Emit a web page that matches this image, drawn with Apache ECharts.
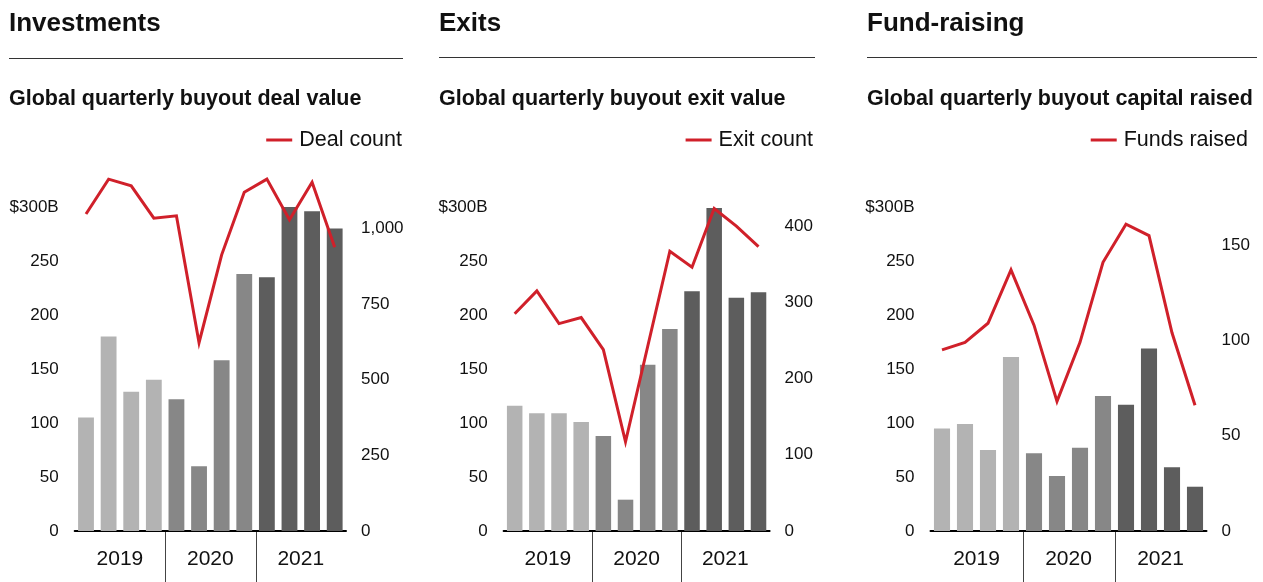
<!DOCTYPE html>
<html>
<head>
<meta charset="utf-8">
<script src="https://cdn.jsdelivr.net/npm/echarts@6/dist/echarts.min.js"></script>
<style>
html,body{margin:0;padding:0;background:#fff;}
#main{width:1263px;height:582px;}
</style>
</head>
<body>
<div id="main"></div>
<script>
// ---- data ----
const quarters = ['Q1 2019','Q2 2019','Q3 2019','Q4 2019','Q1 2020','Q2 2020','Q3 2020','Q4 2020','Q1 2021','Q2 2021','Q3 2021','Q4 2021'];
const years = ['2019','2020','2021'];
const dealValue = [105,180,129,140,122,60,158,238,235,313,296,280];
const dealCount = [1047,1162,1140,1033,1041,622,912,1119,1162,1028,1152,937];
const exitValue = [116,109,109,101,88,29,154,187,222,299,216,221];
const exitCount = [285,315,272,280,238,117,242,367,346,423,400,373];
const capitalRaised = [95,99,75,161,72,51,77,125,117,169,59,41];
const fundsRaised = [95,99,109,137,108,68,99,141,161,155,104,66];
const leftTicks = {min:0, max:300, interval:50};
const panelTitles = ['Investments','Exits','Fund-raising'];
const panelSubtitles = ['Global quarterly buyout deal value','Global quarterly buyout exit value','Global quarterly buyout capital raised'];
const lineNames = ['Deal count','Exit count','Funds raised'];
const rightAxes = [{max:1070, interval:250},{max:425, interval:100},{max:170, interval:50}];

// ---- style / layout ----
const FONT = '"Liberation Sans", Arial, Helvetica, sans-serif';
const TXT = '#111';
const RED = '#d0202a';
const yearColors = ['#b3b3b3','#878787','#5d5d5d'];
const panelX = [9, 439, 867];
const ruleEnd = [403, 815, 1257];
const ruleY = [58.5, 57.5, 57.5];
const grids = [
  {left:74.7, right:1263-346, top:207, bottom:51},
  {left:503.6, right:1263-769.6, top:207, bottom:51},
  {left:930.5, right:1263-1206.5, top:207, bottom:51}
];
const legendRight = [861, 450, 15];

const barVals = [dealValue, exitValue, capitalRaised];
const lineVals = [dealCount, exitCount, fundsRaised];

const option = {
  animation:false,
  textStyle:{fontFamily:FONT},
  title:[], legend:[], grid:grids, xAxis:[], yAxis:[], series:[]
};

for (let p=0;p<3;p++){
  option.title.push({text:panelTitles[p], left:panelX[p], top:11, padding:0,
    textStyle:{fontFamily:FONT,fontSize:26,fontWeight:'bold',color:TXT}});
  option.title.push({text:panelSubtitles[p], left:panelX[p], top:88, padding:0,
    textStyle:{fontFamily:FONT,fontSize:21.5,fontWeight:'bold',color:TXT}});
  option.legend.push({data:[lineNames[p]], right:legendRight[p], top:129, padding:0,
    icon:'rect', itemWidth:26, itemHeight:3, selectedMode:false,
    textStyle:{fontFamily:FONT,fontSize:21.5,color:TXT, padding:[0,0,0,2]}});
  // main category axis
  option.xAxis.push({type:'category', gridIndex:p, data:quarters, position:'bottom',
    axisLabel:{show:false}, axisTick:{show:false},
    axisLine:{show:true, lineStyle:{color:'#000', width:2}}});
  // year axis
  option.xAxis.push({type:'category', gridIndex:p, data:years, position:'bottom',
    axisLine:{show:false}, axisTick:{show:false}, splitLine:{show:false},
    axisLabel:{show:true, fontFamily:FONT, fontSize:21, color:TXT, margin:18}});
  option.yAxis.push({type:'value', gridIndex:p, position:'left', min:leftTicks.min, max:leftTicks.max, interval:leftTicks.interval,
    splitLine:{show:false}, axisLine:{show:false}, axisTick:{show:false},
    axisLabel:{fontFamily:FONT, fontSize:17, color:TXT, margin:16,
      formatter: v => v===leftTicks.max ? '$' + v + 'B' : String(v)}});
  option.yAxis.push({type:'value', gridIndex:p, position:'right', min:0, max:rightAxes[p].max, interval:rightAxes[p].interval,
    splitLine:{show:false}, axisLine:{show:false}, axisTick:{show:false},
    axisLabel:{fontFamily:FONT, fontSize:17, color:TXT, margin:15, showMaxLabel:false,
      formatter: v => v.toLocaleString('en-US')}});
  option.series.push({type:'bar', name:'value'+p, xAxisIndex:p*2, yAxisIndex:p*2, data:barVals[p],
    barCategoryGap:'30%',
    itemStyle:{color: params => yearColors[Math.floor(params.dataIndex/4)]}});
  option.series.push({type:'line', name:lineNames[p], xAxisIndex:p*2, yAxisIndex:p*2+1, data:lineVals[p],
    symbol:'none', clip:false, z:5,
    lineStyle:{color:RED, width:3, join:'miter'}, itemStyle:{color:RED}});
}

const chart = echarts.init(document.getElementById('main'), null, {renderer:'canvas'});
chart.setOption(option);

// rules and year separators (positions from the chart's own scales)
const graphics = [];
for (let p=0;p<3;p++){
  graphics.push({type:'line', shape:{x1:panelX[p], y1:ruleY[p], x2:ruleEnd[p], y2:ruleY[p]},
    style:{stroke:'#333', lineWidth:1}, silent:true});
  const y0 = chart.convertToPixel({yAxisIndex:p*2}, 0);
  [[3,4],[7,8]].forEach(([a,b])=>{
    const xa = chart.convertToPixel({xAxisIndex:p*2}, quarters[a]);
    const xb = chart.convertToPixel({xAxisIndex:p*2}, quarters[b]);
    const xm = Math.round((xa+xb)/2)+0.5;
    graphics.push({type:'line', shape:{x1:xm, y1:y0+1, x2:xm, y2:582},
      style:{stroke:'#444', lineWidth:1}, silent:true});
  });
}
chart.setOption({graphic:graphics});
</script>
</body>
</html>
